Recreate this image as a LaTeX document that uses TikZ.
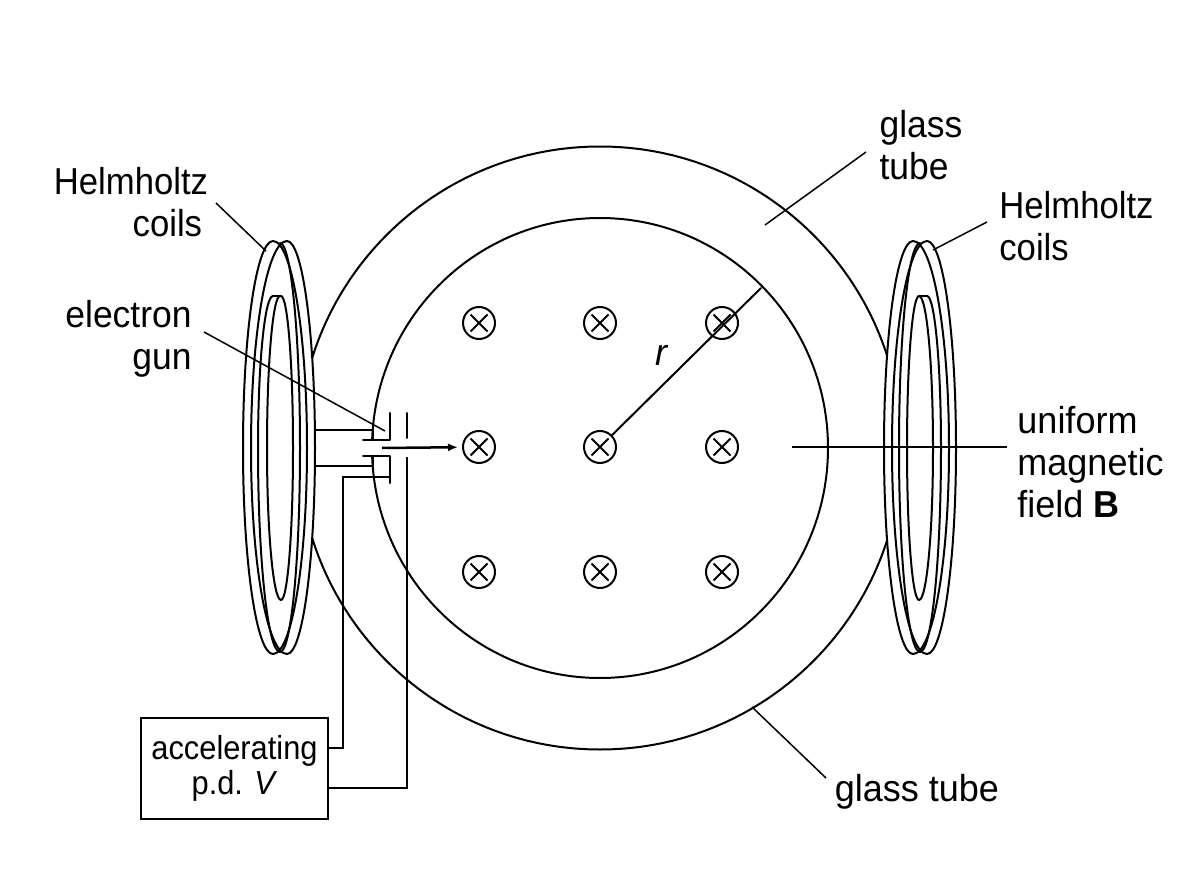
\documentclass[tikz,border=0pt]{standalone}
\usepackage{fontspec}
\setmainfont[FakeStretch=0.96]{Liberation Sans}
\newfontfamily\narrowfont[FakeStretch=0.925]{Liberation Sans}
\newfontfamily\midfont[FakeStretch=0.945]{Liberation Sans}
\usetikzlibrary{arrows.meta,calc}
\tikzset{
  line/.style={draw=black,line width=2pt,line cap=round,line join=round},
  leader/.style={draw=black,line width=1.5pt},
  wire/.style={draw=black,line width=2pt,line join=miter},
  lab/.style={inner sep=0pt,font=\fontsize{37.5}{42}\selectfont},
  fieldin/.style={circle,draw=black,line width=2pt,minimum size=32pt,inner sep=0pt,
    path picture={\draw[line width=2pt] ($(path picture bounding box.center)+(-8.5,-8.5)$) -- ($(path picture bounding box.center)+(8.5,8.5)$)
      ($(path picture bounding box.center)+(-8.5,8.5)$) -- ($(path picture bounding box.center)+(8.5,-8.5)$);}}
}
\newcommand{\coilside}[5]{%
  \draw[line] (#3,#2) .. controls ({#3+.5523*(#1-#3)},#2) and (#1,{448+.5523*(#2-448)}) .. (#1,448)
    .. controls (#1,{448+.5523*(#4-448)}) and ({#5+.5523*(#1-#5)},#4) .. (#5,#4);}
\begin{document}
\begin{tikzpicture}[x=1pt,y=-1pt]
\useasboundingbox (0,0) rectangle (1200,896);
% tube
\draw[line] (600,448) circle[radius=301.5];
\draw[line] (600,448) ellipse[x radius=228,y radius=230];
% gap for the gun
\fill[white] (364,441) rectangle (384,455);
% left coil
\fill[white] (273,448) ellipse[x radius=30,y radius=206];
\fill[white] (287,448) ellipse[x radius=28,y radius=206];
\coilside{243}{241}{273}{654}{273}
\coilside{307}{241}{273}{654}{273}
\coilside{251}{241}{287}{654}{287}
\coilside{315}{241}{287}{654}{287}
\coilside{300}{243}{280}{652}{280}
\coilside{258}{296}{273}{652}{280}
\coilside{267}{296}{280}{600}{281}
\coilside{293}{296}{281}{600}{281}
\draw[line] (273,296) -- (281,296);
% right coil
\fill[white] (913,448) ellipse[x radius=29,y radius=206];
\fill[white] (927,448) ellipse[x radius=29,y radius=206];
\coilside{884}{241}{913}{654}{913}
\coilside{949}{241}{913}{654}{913}
\coilside{892}{241}{927}{654}{927}
\coilside{956}{241}{927}{654}{927}
\coilside{899}{243}{920}{652}{920}
\coilside{941}{296}{927}{652}{920}
\coilside{907}{296}{919}{600}{919}
\coilside{933}{296}{919}{600}{919}
\draw[line] (919,296) -- (927,296);
% field markers
\foreach \nx/\x in {1/479,2/600,3/722}
  \foreach \ny/\y in {1/323,2/447,3/572}
    \node[fieldin] (c\nx\ny) at (\x,\y) {};
% box
\node[draw=black,line width=2pt,minimum width=187pt,minimum height=101pt,inner sep=0pt,align=center,
  font=\narrowfont\fontsize{33.3}{35}\selectfont] (box) at (234.5,768.5) {accelerating\\p.d. \textit{V}};
% labels
\node[lab,font=\narrowfont\fontsize{37.5}{42}\selectfont,align=right,anchor=center] (hl) at (131,202) {Helmholtz\\coils\hspace*{6pt}};
\node[lab,font=\midfont\fontsize{37.5}{42}\selectfont,align=right,anchor=center] (eg) at (128.5,339) {electron\\gun};
\node[lab,font=\midfont\fontsize{37.5}{42}\selectfont,align=left,anchor=center] (gt1) at (921,145) {glass\\tube};
\node[lab,font=\narrowfont\fontsize{37.5}{42}\selectfont,align=left,anchor=center] (hr) at (1076.5,226) {Helmholtz\\coils};
\node[lab,align=left,anchor=center] (ub) at (1090.5,462) {uniform\\magnetic\\field \textbf{B}};
\node[lab,anchor=center] (gt2) at (917,792) {glass tube};
\node[lab,anchor=center] (rl) at (662,355) {\textit{r}};
% leaders
\coordinate (a1) at (216,203); \coordinate (a2) at (266,251);
\coordinate (b1) at (987,222); \coordinate (b2) at (933,250);
\coordinate (d1) at (866,152); \coordinate (d2) at (765,225);
\coordinate (e1) at (826,778); \coordinate (e2) at (752,707);
\coordinate (f1) at (1007,447); \coordinate (f2) at (792,447);
\coordinate (g1) at (204,332); \coordinate (g2) at (385,431);
\coordinate (rend) at (761,288);
\draw[leader] (a1) -- (a2);
\draw[leader] (b1) -- (b2);
\draw[leader] (d1) -- (d2);
\draw[leader] (e1) -- (e2);
\draw[leader] (f1) -- (f2);
\draw[leader] (g1) -- (g2);
\draw[line] (c22) -- (rend);
% gun
\draw[line] (316,430) -- (373,430) -- (373,440);
\draw[line] (363,440) -- (390,440) -- (390,413);
\draw[line] (407,413) -- (407,438);
\draw[line] (316,466) -- (373,466) -- (373,456);
\draw[line] (363,456) -- (390,456) -- (390,483);
\coordinate (beam) at (382,448);
\draw[draw=black,line width=2.5pt,-{Latex[length=10pt,width=8pt]},shorten >=4pt] (beam) -- (c12);
% wires to the supply
\coordinate (w1) at (390,477); \coordinate (w2) at (407,457);
\draw[wire] (w1) -- (343,477) -- (343,748) -- (box.east |- 0,748);
\draw[wire] (w2) -- (407,788) -- (box.east |- 0,788);
\end{tikzpicture}
\end{document}
